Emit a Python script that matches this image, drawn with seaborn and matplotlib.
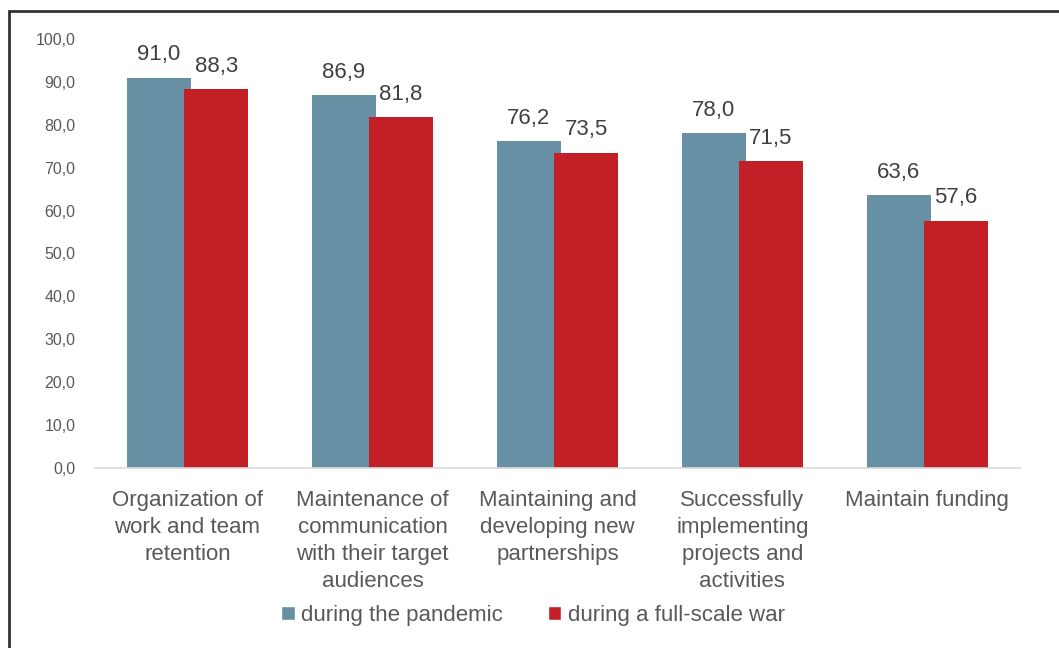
import matplotlib
matplotlib.use("Agg")
import matplotlib.pyplot as plt
import seaborn as sns
import pandas as pd
from matplotlib.patches import Rectangle

categories = [
    "Organization of\nwork and team\nretention",
    "Maintenance of\ncommunication\nwith their target\naudiences",
    "Maintaining and\ndeveloping new\npartnerships",
    "Successfully\nimplementing\nprojects and\nactivities",
    "Maintain funding",
]
series_names = ["during the pandemic", "during a full-scale war"]
pandemic = [91.0, 86.9, 76.2, 78.0, 63.6]
war = [88.3, 81.8, 73.5, 71.5, 57.6]
yticks = [0, 10, 20, 30, 40, 50, 60, 70, 80, 90, 100]

colors = ["#6890A5", "#C21F26"]
text_color = "#595959"

df = pd.DataFrame({
    "category": categories * 2,
    "series": [series_names[0]] * len(categories) + [series_names[1]] * len(categories),
    "value": pandemic + war,
})

sns.set_theme(style="white")
plt.rcParams["font.family"] = ["Liberation Sans", "DejaVu Sans"]

fig = plt.figure(figsize=(10.59, 6.48), dpi=100)
ax = fig.add_axes([0.0897, 0.2778, 0.8733, 0.662])

sns.barplot(data=df, x="category", y="value", hue="series", order=categories,
            hue_order=series_names, palette=colors, width=0.62, ax=ax,
            saturation=1, errorbar=None, legend=True)

# widen bars slightly so they overlap as in the reference
new_w = 0.345
for p in ax.patches:
    if p.get_height() == 0 and p.get_width() == 0:
        continue
    c = p.get_x() + p.get_width() / 2
    p.set_width(new_w)
    p.set_x(c - new_w / 2)
    p.set_edgecolor("none")

for cont in ax.containers:
    ax.bar_label(cont, labels=[f"{v:.1f}".replace(".", ",") for v in cont.datavalues],
                 padding=9, fontsize=16, color="#404040")

ax.set_ylim(0, 100)
ax.set_xlim(-0.5, len(categories) - 0.5)
ax.set_yticks(yticks)
ax.set_yticklabels([f"{v:.1f}".replace(".", ",") for v in yticks], fontsize=11.5, color=text_color)
ax.set_xticks(range(len(categories)))
ax.set_xticklabels(categories, fontsize=16, color=text_color, linespacing=1.38, va="top")
ax.tick_params(axis="both", length=0)
ax.tick_params(axis="y", pad=14)
ax.tick_params(axis="x", pad=16)
ax.set_xlabel("")
ax.set_ylabel("")
for s in ["top", "right", "left"]:
    ax.spines[s].set_visible(False)
ax.spines["bottom"].set_color("#D9D9D9")
ax.spines["bottom"].set_linewidth(1.2)

leg = ax.legend(loc="center", bbox_to_anchor=(533 / 1059, 1 - 615 / 648),
                bbox_transform=fig.transFigure, ncol=2, frameon=False,
                fontsize=16, handlelength=0.6, handleheight=0.6, handletextpad=0.3,
                columnspacing=2.0, labelcolor=text_color)

fig.patches.append(Rectangle((9 / 1059, -0.2), 1.3, 0.2 + 1 - 11 / 648,
                             transform=fig.transFigure, fill=False,
                             edgecolor="#333333", linewidth=2, clip_on=False))

fig.savefig("out.png", dpi=100)
